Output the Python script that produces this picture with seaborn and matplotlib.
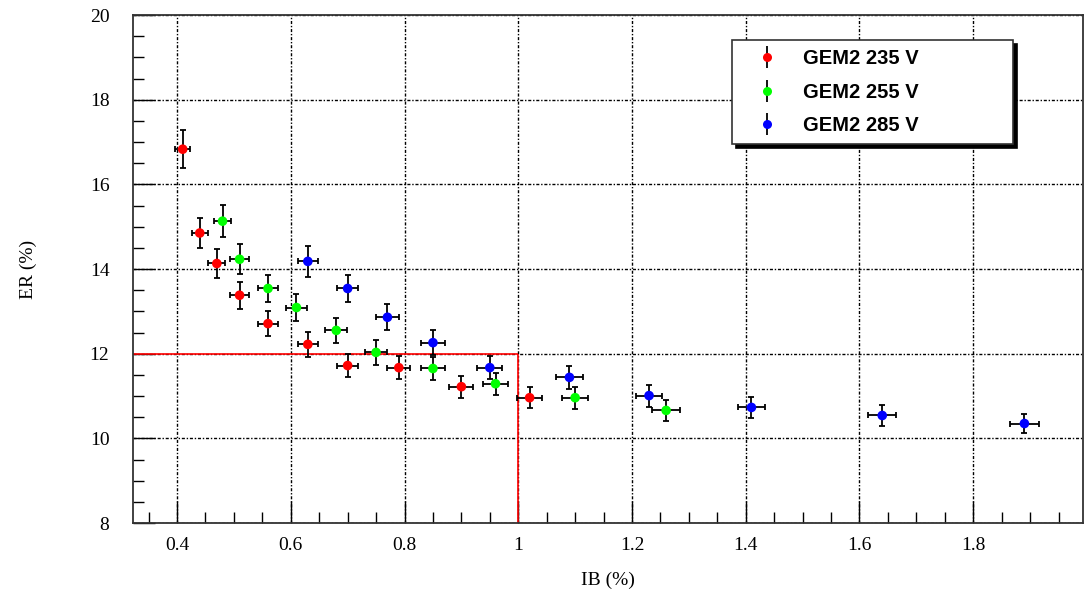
import matplotlib
matplotlib.use("Agg")
import matplotlib.pyplot as plt
import seaborn as sns
import pandas as pd
import numpy as np
from matplotlib.lines import Line2D
from matplotlib.legend_handler import HandlerTuple
from matplotlib.ticker import MultipleLocator, FuncFormatter

# ---------------- data ----------------
series_names = ["GEM2 235 V", "GEM2 255 V", "GEM2 285 V"]
series_colors = ["#ff0000", "#00ff00", "#0000ff"]

ib_235 = [0.41, 0.44, 0.47, 0.51, 0.56, 0.63, 0.70, 0.79, 0.90, 1.02]
er_235 = [16.83, 14.85, 14.13, 13.38, 12.71, 12.22, 11.72, 11.67, 11.22, 10.96]
ibe_235 = [0.013, 0.014, 0.015, 0.016, 0.017, 0.018, 0.019, 0.020, 0.021, 0.022]
ere_235 = [0.45, 0.36, 0.34, 0.32, 0.30, 0.29, 0.28, 0.27, 0.26, 0.25]

ib_255 = [0.48, 0.51, 0.56, 0.61, 0.68, 0.75, 0.85, 0.96, 1.10, 1.26]
er_255 = [15.13, 14.23, 13.54, 13.09, 12.55, 12.03, 11.65, 11.29, 10.96, 10.66]
ibe_255 = [0.015, 0.016, 0.017, 0.018, 0.019, 0.020, 0.021, 0.022, 0.023, 0.024]
ere_255 = [0.38, 0.35, 0.33, 0.31, 0.30, 0.29, 0.28, 0.26, 0.26, 0.25]

ib_285 = [0.63, 0.70, 0.77, 0.85, 0.95, 1.09, 1.23, 1.41, 1.64, 1.89]
er_285 = [14.18, 13.54, 12.86, 12.26, 11.67, 11.44, 11.01, 10.73, 10.54, 10.35]
ibe_285 = [0.018, 0.019, 0.020, 0.021, 0.022, 0.023, 0.023, 0.024, 0.025, 0.026]
ere_285 = [0.36, 0.33, 0.31, 0.30, 0.28, 0.27, 0.26, 0.25, 0.24, 0.23]

cut_ib = 1.0
cut_er = 12.0

x_range = (0.3226, 1.993)
y_range = (8.0, 20.0)

x_label = "IB (%)"
y_label = "ER (%)"

# ---------------- build table ----------------
frames = []
for name, ib, er, ibe, ere in zip(series_names,
                                  [ib_235, ib_255, ib_285],
                                  [er_235, er_255, er_285],
                                  [ibe_235, ibe_255, ibe_285],
                                  [ere_235, ere_255, ere_285]):
    frames.append(pd.DataFrame({"IB": ib, "ER": er, "IBerr": ibe,
                                "ERerr": ere, "series": name}))
df = pd.concat(frames, ignore_index=True)

# ---------------- plot ----------------
sns.set_theme(style="white")
plt.rcParams["font.family"] = ["Liberation Serif", "DejaVu Serif"]
plt.rcParams["text.color"] = "black"
plt.rcParams["axes.labelcolor"] = "black"

fig = plt.figure(figsize=(10.86, 5.94), dpi=100)
ax = fig.add_axes([133 / 1086, 1 - 523 / 594, 950 / 1086, 508 / 594])

ax.set_xlim(*x_range)
ax.set_ylim(*y_range)

ax.xaxis.set_major_locator(MultipleLocator(0.2))
ax.xaxis.set_minor_locator(MultipleLocator(0.05))
ax.yaxis.set_major_locator(MultipleLocator(2))
ax.yaxis.set_minor_locator(MultipleLocator(0.5))
ax.xaxis.set_major_formatter(FuncFormatter(lambda v, p: f"{v:g}"))
ax.yaxis.set_major_formatter(FuncFormatter(lambda v, p: f"{v:g}"))
ax.grid(True, which="major", color="black", linewidth=1.0,
        linestyle=(0, (2.2, 1.3, 1.0, 1.3)), zorder=0)
ax.set_axisbelow(True)

# reference cut lines
ax.hlines(cut_er, x_range[0], cut_ib, colors="#ff0000", linewidth=1.2, zorder=2)
ax.vlines(cut_ib, y_range[0], cut_er, colors="#ff0000", linewidth=1.2, zorder=2)

# error bars
for name in series_names:
    d = df[df["series"] == name]
    ax.errorbar(d["IB"], d["ER"], xerr=d["IBerr"], yerr=d["ERerr"],
                fmt="none", ecolor="black", elinewidth=1.3, capsize=2.4,
                capthick=1.3, zorder=3)

sns.scatterplot(data=df, x="IB", y="ER", hue="series",
                palette=dict(zip(series_names, series_colors)),
                s=48, edgecolor="none", legend=False, ax=ax, zorder=4)

# ticks
ax.tick_params(axis="both", which="both", direction="in", top=False,
               right=False, bottom=True, left=True, colors="black",
               labelsize=14)
ax.tick_params(axis="both", which="major", length=16, width=1.0)
ax.tick_params(axis="both", which="minor", length=8, width=1.0)
ax.tick_params(axis="x", which="major", pad=10)
ax.tick_params(axis="y", which="major", pad=17)

for sp in ax.spines.values():
    sp.set_color("#333333")
    sp.set_linewidth(1.3)

ax.set_xlabel(x_label, fontsize=14, labelpad=13, color="black")
ax.set_ylabel(y_label, fontsize=14, labelpad=38, color="black")

# legend
handles = []
for c in series_colors:
    bar = Line2D([], [], marker="|", color="black", markersize=16,
                 markeredgewidth=1.3, linestyle="")
    dot = Line2D([], [], marker="o", color=c, markersize=6.5,
                 markeredgewidth=0, linestyle="")
    handles.append((bar, dot))
leg_w = 281 / 950
leg_h = 101 / 508
leg = ax.legend(handles, series_names,
                handler_map={tuple: HandlerTuple(ndivide=1)},
                loc="upper left",
                bbox_to_anchor=((732 - 133) / 950, (523 - 40) / 508 - leg_h,
                                leg_w, leg_h),
                mode="expand",
                frameon=True, fancybox=False, framealpha=1,
                edgecolor="#333333", borderpad=0.45, labelspacing=0.72,
                handlelength=2.6, handletextpad=0.5, borderaxespad=0,
                labelcolor="black",
                prop={"family": "Liberation Sans", "weight": "bold",
                      "size": 14.5},
                shadow={"ox": 3, "oy": -3, "facecolor": "black",
                        "edgecolor": "black", "alpha": 1})
leg.get_frame().set_linewidth(1.2)

fig.savefig("out.png", dpi=100)
